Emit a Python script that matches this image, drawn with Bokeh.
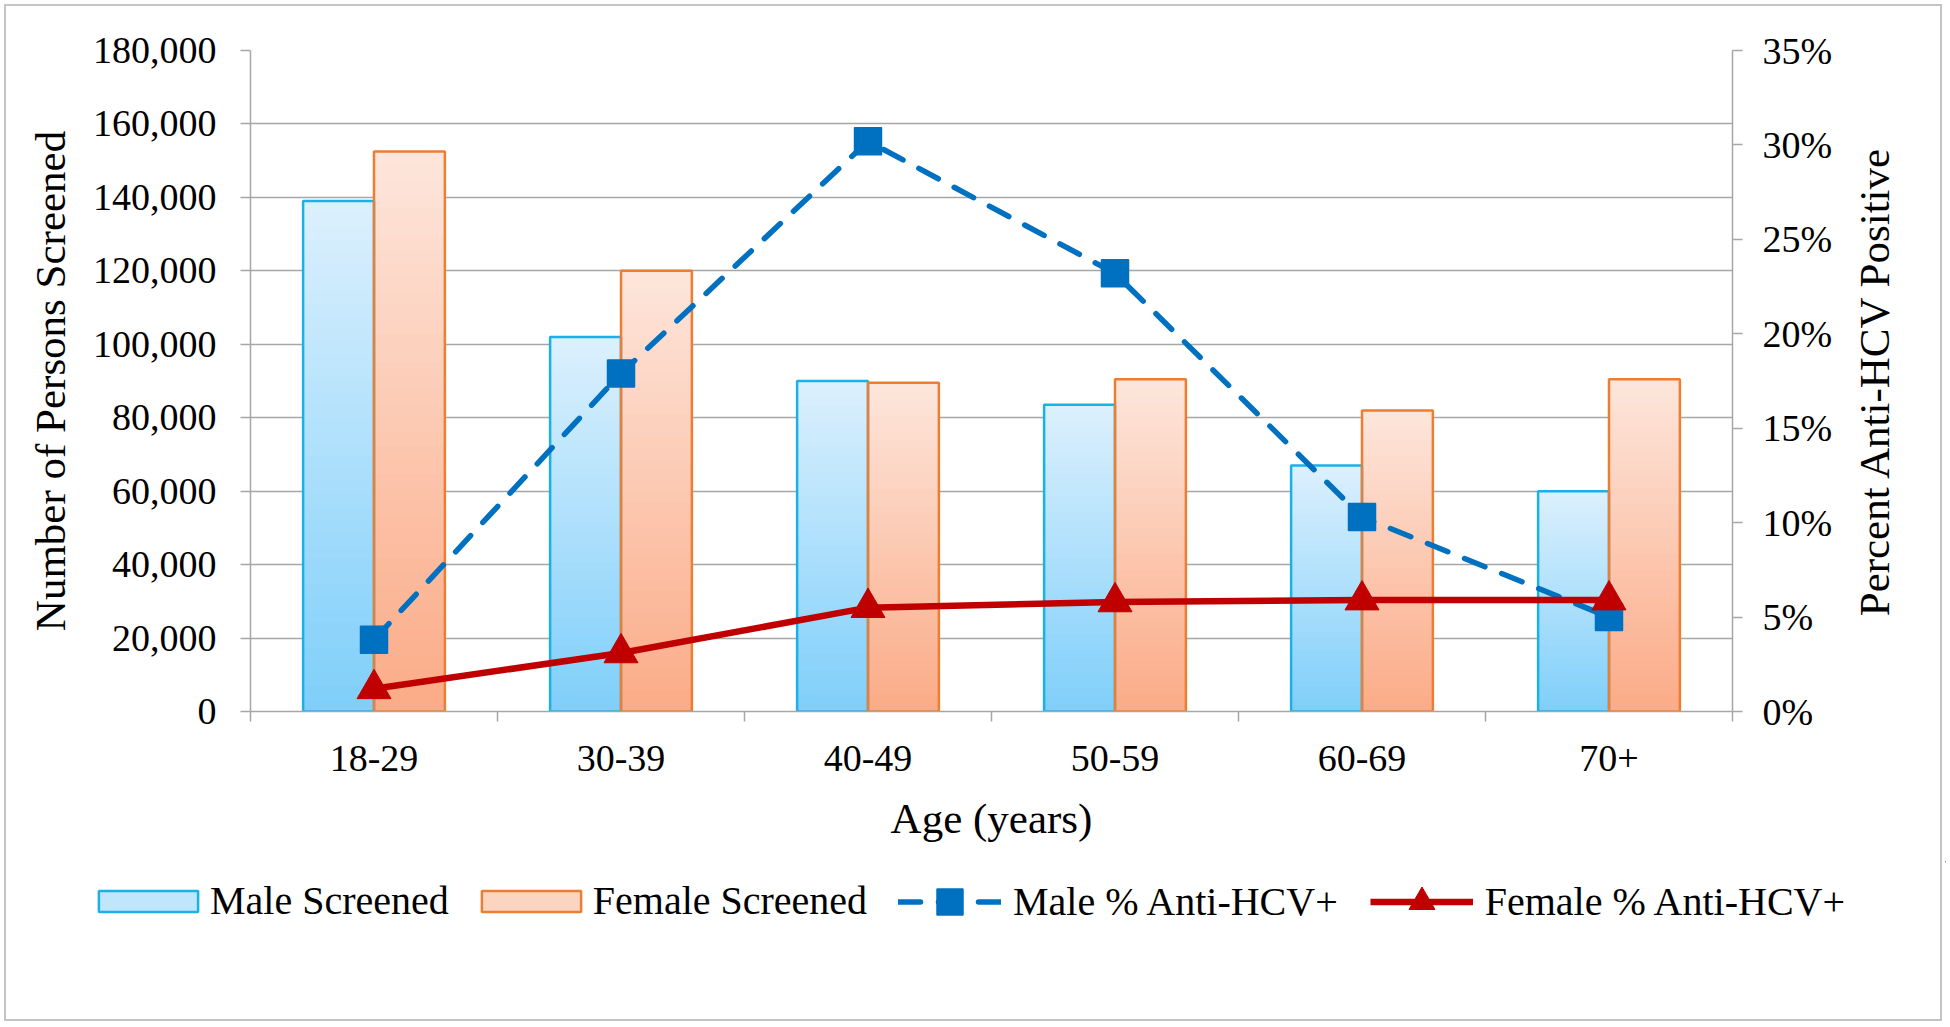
from bokeh.plotting import figure
from bokeh.layouts import column, row
from bokeh.models import (Range1d, LinearAxis, SingleIntervalTicker, FixedTicker,
                          NumeralTickFormatter, PrintfTickFormatter, Legend, LegendItem)
from bokeh.embed import file_html
from bokeh.resources import INLINE

# ---------------- data ----------------
categories = ["18-29", "30-39", "40-49", "50-59", "60-69", "70+"]
male_screened = [139000, 102000, 90000, 83500, 67000, 60000]
female_screened = [152500, 120000, 89500, 90500, 82000, 90500]
male_pct = [3.8, 17.9, 30.2, 23.2, 10.3, 5.0]
female_pct = [1.2, 3.1, 5.5, 5.8, 5.9, 5.9]
series_names = ["Male Screened", "Female Screened", "Male % Anti-HCV+", "Female % Anti-HCV+"]
left_title = "Number of Persons Screened"
right_title = "Percent Anti-HCV Positive"
x_title = "Age (years)"

FONT = "Liberation Serif"
GRAY = "#a6a6a6"
MALE_EDGE = "#1ab0e8"
FEMALE_EDGE = "#ed7d31"
MALE_TOP, MALE_BOT = "#dcf0fd", "#7fcffa"
FEMALE_TOP, FEMALE_BOT = "#fde6dc", "#fbab87"
MALE_LINE = "#0070c0"
FEMALE_LINE = "#c00000"


def mix(c1, c2, t):
    a = [int(c1[i:i + 2], 16) for i in (1, 3, 5)]
    b = [int(c2[i:i + 2], 16) for i in (1, 3, 5)]
    return "#%02x%02x%02x" % tuple(round(a[k] + (b[k] - a[k]) * t) for k in range(3))


n = len(categories)
centers = [i + 0.5 for i in range(n)]
bw = 0.287
male_x = [c - bw / 2 for c in centers]
female_x = [c + bw / 2 for c in centers]

TOTAL_W, TOTAL_H = 1946, 1025
W1, H1 = 1847, 861
p = figure(width=W1, height=H1, x_range=Range1d(0, n), y_range=Range1d(0, 180000),
           output_backend="svg", toolbar_location=None,
           min_border_left=250, min_border_right=115, min_border_top=50, min_border_bottom=150)
p.outline_line_color = None
p.background_fill_color = "white"
p.border_fill_alpha = 0

# gradient bars: nested layers, lightest/tallest first, so no seams remain
N = 40
for xs, vals, top_c, bot_c in ((male_x, male_screened, MALE_TOP, MALE_BOT),
                               (female_x, female_screened, FEMALE_TOP, FEMALE_BOT)):
    for k in range(N - 1, -1, -1):
        p.vbar(x=xs, width=bw, bottom=0,
               top=[v * (k + 1) / N for v in vals],
               fill_color=mix(bot_c, top_c, (k + 0.5) / N), line_color=None)

p.vbar(x=male_x, width=bw, top=male_screened, bottom=0, fill_color=None,
       line_color=MALE_EDGE, line_width=2.5)
p.vbar(x=female_x, width=bw, top=female_screened, bottom=0, fill_color=None,
       line_color=FEMALE_EDGE, line_width=2.5)

# right axis
p.extra_y_ranges = {"pct": Range1d(0, 35)}
rax = LinearAxis(y_range_name="pct", ticker=SingleIntervalTicker(interval=5, num_minor_ticks=0),
                 formatter=PrintfTickFormatter(format="%d%%"))
p.add_layout(rax, "right")

LINE_STYLE = dict(m=dict(line_color=MALE_LINE, line_width=5.5, line_dash="22 18", line_cap="round"),
                  f=dict(line_color=FEMALE_LINE, line_width=6.5))
MARK_STYLE = dict(m=dict(marker="square", size=27, fill_color=MALE_LINE, line_color=MALE_LINE, line_width=1.5),
                  f=dict(marker="triangle", size=34, fill_color=FEMALE_LINE, line_color=FEMALE_LINE))

p.line(centers, male_pct, y_range_name="pct", **LINE_STYLE["m"])
p.scatter(centers, male_pct, y_range_name="pct", **MARK_STYLE["m"])
p.line(centers, female_pct, y_range_name="pct", **LINE_STYLE["f"])
p.scatter(centers, female_pct, y_range_name="pct", **MARK_STYLE["f"])

# left axis / grid
lax = p.yaxis[0]
lax.ticker = SingleIntervalTicker(interval=20000, num_minor_ticks=0)
lax.formatter = NumeralTickFormatter(format="0,0")
lax.axis_label = left_title

xax = p.xaxis[0]
xax.ticker = FixedTicker(ticks=centers, minor_ticks=list(range(n + 1)))
xax.major_label_overrides = {c: lab for c, lab in zip(centers, categories)}
xax.axis_label = x_title
xax.major_tick_line_color = None
xax.minor_tick_in = 0
xax.minor_tick_out = 10
xax.minor_tick_line_color = GRAY
xax.minor_tick_line_width = 1.5

for ax in (lax, rax, xax):
    ax.axis_line_color = GRAY
    ax.axis_line_width = 1.5
    ax.major_label_text_font = FONT
    ax.major_label_text_font_size = "38px"
    ax.major_label_text_color = "black"
    ax.axis_label_text_font = FONT
    ax.axis_label_text_font_size = "43px"
    ax.axis_label_text_font_style = "normal"
    ax.axis_label_text_color = "black"
for ax in (lax, rax):
    ax.major_tick_in = 0
    ax.major_tick_out = 10
    ax.major_tick_line_color = GRAY
    ax.major_tick_line_width = 1.5
    ax.minor_tick_line_color = None

lax.major_label_standoff = 24
lax.axis_label_standoff = 16
rax.major_label_standoff = 20
xax.major_label_standoff = 24
xax.axis_label_standoff = 21

p.xgrid.grid_line_color = None
p.ygrid.grid_line_color = GRAY
p.ygrid.grid_line_width = 1.5

# ---- right-hand axis title (reads bottom-to-top) in a narrow companion figure ----
W2 = TOTAL_W - W1
pt = figure(width=W2, height=H1, x_range=Range1d(0, 1), y_range=Range1d(0, 35),
            output_backend="svg", toolbar_location=None, x_axis_location=None,
            min_border_left=0, min_border_right=0, min_border_top=50, min_border_bottom=150)
pt.outline_line_color = None
pt.grid.grid_line_color = None
pt.border_fill_alpha = 0
pt.background_fill_alpha = 0
tax = pt.yaxis[0]
tax.ticker = FixedTicker(ticks=[])
tax.axis_line_color = None
tax.major_tick_line_color = None
tax.minor_tick_line_color = None
tax.major_label_standoff = 0
tax.axis_label_standoff = 0
tax.axis_label = right_title
tax.axis_label_text_font = FONT
tax.axis_label_text_font_size = "43px"
tax.axis_label_text_font_style = "normal"
tax.axis_label_text_color = "black"

# ---- legend strip ----
H3 = TOTAL_H - H1
pl = figure(width=TOTAL_W, height=H3, x_range=Range1d(-101, -100), y_range=Range1d(-101, -100),
            output_backend="svg", toolbar_location=None, x_axis_location=None, y_axis_location=None,
            min_border=0)
pl.outline_line_color = None
pl.grid.grid_line_color = None
pl.border_fill_alpha = 0
pl.background_fill_alpha = 0
mid = 0.7
lm1 = pl.vbar(x=male_x, width=bw, top=male_screened, fill_color=mix(MALE_BOT, MALE_TOP, mid),
              line_color=MALE_EDGE, line_width=2.5)
lf1 = pl.vbar(x=female_x, width=bw, top=female_screened, fill_color=mix(FEMALE_BOT, FEMALE_TOP, mid),
              line_color=FEMALE_EDGE, line_width=2.5)
lm2 = pl.line(centers, male_pct, **LINE_STYLE["m"])
lm3 = pl.scatter(centers, male_pct, **MARK_STYLE["m"])
lf2 = pl.line(centers, female_pct, **LINE_STYLE["f"])
lf3 = pl.scatter(centers, female_pct, **MARK_STYLE["f"])

LEG = dict(orientation="horizontal", border_line_color=None, background_fill_alpha=0,
           label_text_font=FONT, label_text_font_size="40px", label_text_color="black",
           padding=4, margin=0)
mid_from_bottom = H3 - 36
leg_a = Legend(items=[LegendItem(label=series_names[0], renderers=[lm1]),
                      LegendItem(label=series_names[1], renderers=[lf1])],
               location=(86, mid_from_bottom - 27), glyph_width=124, glyph_height=26,
               spacing=20, label_standoff=0, **LEG)
leg_b = Legend(items=[LegendItem(label=series_names[2], renderers=[lm2, lm3]),
                      LegendItem(label=series_names[3], renderers=[lf2, lf3])],
               location=(898, mid_from_bottom - 36.5), glyph_width=103, glyph_height=65,
               spacing=32, label_standoff=12, **LEG)
pl.add_layout(leg_a, "center")
pl.add_layout(leg_b, "center")

layout = column(row(p, pt, spacing=0), pl, spacing=0)
layout.styles = {"outline": "2px solid #c4c4c4", "outline-offset": "-6px", "background-color": "white"}

open("out.html", "w").write(file_html(layout, INLINE))
